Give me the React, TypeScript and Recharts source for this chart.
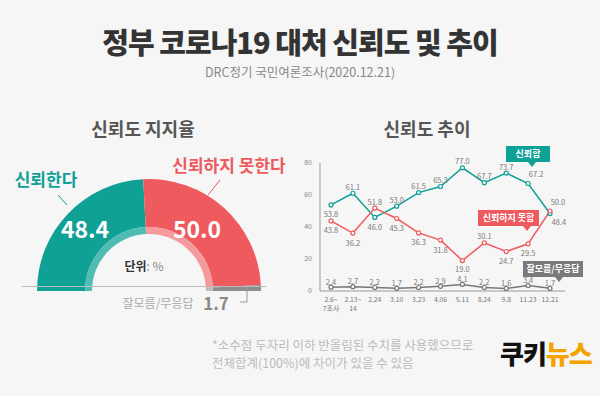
import { PieChart, Pie, Cell, LineChart, Line, XAxis, YAxis, LabelList } from "recharts";

const gaugeNames = ["신뢰한다", "신뢰하지 못한다", "잘모름/무응답"];
const gaugeValues = [48.4, 50.0, 1.7];

const dates = ["2.6~|7조사", "2.13~|14", "2.24", "3.10", "3.23", "4.06", "5.11", "8.24", "9.8", "11.23", "12.21"];
const trust = [53.8, 61.1, 46.0, 53.0, 61.5, 65.3, 77.0, 67.7, 73.7, 67.2, 48.4];
const distrust = [43.8, 36.2, 51.8, 45.3, 36.3, 31.8, 19.0, 30.1, 24.7, 29.5, 50.0];
const unsure = [2.4, 2.7, 2.2, 1.7, 2.2, 2.9, 4.1, 2.2, 1.6, 3.4, 1.7];
const yTicks = [0, 20, 40, 60, 80];

// where each value label sits relative to its point
const trustPos = ["b", "a", "b", "a", "a", "a", "a", "a", "a", "ar", "br"];
const distrustPos = ["b", "b", "a", "b", "b", "b", "bs", "a", "b", "b", "ar"];
const unsurePos = unsure.map(() => "as");

const TEAL = "#0fa096";
const RED = "#ef5a5f";
const GRAY = "#777";
const FONT = "'Noto Sans CJK KR', 'Noto Sans', sans-serif";

const gaugeData = gaugeNames.map((name, i) => ({ name, value: gaugeValues[i] }));
const gaugeColors = [TEAL, RED, "#8e8e8e"];
const gaugeInner = ["#4fbcb3", "#f49a9c", "#bdbdbd"];

const lineData = dates.map((d, i) => ({
  date: d,
  trust: trust[i],
  distrust: distrust[i],
  unsure: unsure[i],
}));

const offsets: Record<string, [number, number]> = {
  a: [0, -7],
  as: [0, -6],
  b: [0, 9],
  bs: [0, 8],
  ar: [8, -10],
  br: [9, 8],
};

const makeLabel = (pos: string[]) => (props: any) => {
  const { x, y, value, index } = props;
  const [dx, dy] = offsets[pos[index] ?? "a"];
  return (
    <text x={x + dx} y={y + dy} textAnchor="middle" dominantBaseline="central"
      fontSize={7.5} fill="#7a7a7a" fontFamily={FONT}>
      {Number(value).toFixed(1)}
    </text>
  );
};

const DateTick = (props: any) => {
  const { x, y, payload } = props;
  const parts = String(payload.value).split("|");
  return (
    <g>
      {parts.map((t, i) => (
        <text key={i} x={x} y={y + 3 + i * 9} textAnchor="middle" fontSize={6.8} fill="#777" fontFamily={FONT}>{t}</text>
      ))}
    </g>
  );
};

const Dot = (color: string) => (props: any) => {
  const { cx, cy, index } = props;
  return <circle key={index} cx={cx} cy={cy} r={2} fill="#fff" stroke={color} strokeWidth={1.2} />;
};

function Callout({ left, top, width, text, color, tip }: any) {
  return (
    <div style={{ position: "absolute", left, top, width, height: 16 }}>
      <div style={{
        background: color, color: "#fff", fontSize: 9, fontWeight: 700, lineHeight: "16px",
        textAlign: "center", height: 16, whiteSpace: "nowrap",
      }}>{text}</div>
      <div style={{
        position: "absolute", left: tip - 4, top: 16, width: 0, height: 0,
        borderLeft: "4px solid transparent", borderRight: "4px solid transparent",
        borderTop: `5px solid ${color}`,
      }} />
    </div>
  );
}

const abs = (left: number, top: number, extra: any = {}) => ({
  position: "absolute" as const, left, top, transform: "translate(-50%, -50%)", whiteSpace: "nowrap" as const,
  lineHeight: 1.15, ...extra,
});

export default function App() {
  return (
    <div style={{
      position: "absolute", left: 0, top: 0, width: 600, height: 396, background: "#f6f6f6",
      fontFamily: FONT, overflow: "hidden",
    }}>
      <div style={abs(300, 41, { fontSize: 29, fontWeight: 900, color: "#333", letterSpacing: -1, lineHeight: 1 })}>
        정부 코로나19 대처 신뢰도 및 추이
      </div>
      <div style={abs(300, 72, { fontSize: 12.5, color: "#888" })}>
        DRC정기 국민여론조사(2020.12.21)
      </div>
      <div style={abs(143, 128, { fontSize: 18, fontWeight: 700, color: "#555" })}>신뢰도 지지율</div>
      <div style={abs(427, 128, { fontSize: 18, fontWeight: 700, color: "#555" })}>신뢰도 추이</div>

      {/* gauge */}
      <div style={{ position: "absolute", left: 0, top: 140 }}>
        <PieChart width={290} height={160}>
          <Pie data={gaugeData} dataKey="value" cx={144} cy={146} startAngle={180} endAngle={0}
            innerRadius={64} outerRadius={112} stroke="none" isAnimationActive={false}>
            {gaugeData.map((d, i) => <Cell key={d.name} fill={gaugeColors[i]} />)}
          </Pie>
          <Pie data={gaugeData} dataKey="value" cx={144} cy={146} startAngle={180} endAngle={0}
            innerRadius={57} outerRadius={64} stroke="none" isAnimationActive={false}>
            {gaugeData.map((d, i) => <Cell key={d.name} fill={gaugeInner[i]} />)}
          </Pie>
        </PieChart>
      </div>
      <svg style={{ position: "absolute", left: 0, top: 0 }} width={600} height={396}>
        <line x1={22} y1={286.5} x2={266} y2={286.5} stroke="#bbb" strokeWidth={1} />
        <line x1={58} y1={195} x2={67} y2={205} stroke={TEAL} strokeWidth={1} />
        <line x1={220} y1={180} x2={208} y2={195} stroke={RED} strokeWidth={1} />
        <polyline points="247,287 247,302 240,302" fill="none" stroke="#999" strokeWidth={1} />
      </svg>
      <div style={abs(85, 228, { fontSize: 23, fontWeight: 700, color: "#fff" })}>{gaugeValues[0].toFixed(1)}</div>
      <div style={abs(197, 228, { fontSize: 23, fontWeight: 700, color: "#fff" })}>{gaugeValues[1].toFixed(1)}</div>
      <div style={abs(46, 179, { fontSize: 17, fontWeight: 700, color: TEAL })}>{gaugeNames[0]}</div>
      <div style={abs(229, 165, { fontSize: 17, fontWeight: 700, color: RED })}>{gaugeNames[1]}</div>
      <div style={abs(144, 266, { fontSize: 12, color: "#888" })}>
        <span style={{ fontWeight: 700, color: "#333" }}>단위</span>: %
      </div>
      <div style={abs(158, 303, { fontSize: 12, color: "#aaa" })}>{gaugeNames[2]}</div>
      <div style={abs(216, 303, { fontSize: 17, fontWeight: 700, color: "#888" })}>{gaugeValues[2].toFixed(1)}</div>

      {/* trend */}
      <div style={{ position: "absolute", left: 290, top: 140 }}>
        <LineChart width={290} height={180} data={lineData} margin={{ top: 23, right: 15, bottom: 0, left: 0 }}>
          <XAxis dataKey="date" interval={0} height={29} tickLine={false} axisLine={{ stroke: "#999" }}
            padding={{ left: 11, right: 15 }} tick={<DateTick />} />
          <YAxis width={30} domain={[0, 80]} ticks={yTicks} tickLine={false} axisLine={{ stroke: "#999" }}
            tick={{ fontSize: 7, fill: "#888", fontFamily: FONT }} />
          <Line dataKey="trust" stroke={TEAL} strokeWidth={1.5} dot={Dot(TEAL)} isAnimationActive={false}>
            <LabelList dataKey="trust" content={makeLabel(trustPos)} />
          </Line>
          <Line dataKey="distrust" stroke={RED} strokeWidth={1.5} dot={Dot(RED)} isAnimationActive={false}>
            <LabelList dataKey="distrust" content={makeLabel(distrustPos)} />
          </Line>
          <Line dataKey="unsure" stroke={GRAY} strokeWidth={1.5} dot={Dot(GRAY)} isAnimationActive={false}>
            <LabelList dataKey="unsure" content={makeLabel(unsurePos)} />
          </Line>
        </LineChart>
      </div>
      <Callout left={506} top={146} width={44} text="신뢰함" color={TEAL} tip={26} />
      <Callout left={478} top={210} width={61} text="신뢰하지 못함" color={RED} tip={49} />
      <Callout left={523} top={261} width={60} text="잘모름/무응답" color="#7a7a7a" tip={36} />

      {/* footnote + logo */}
      <div style={{ position: "absolute", left: 212, top: 336, fontSize: 12.5, color: "#bbb", lineHeight: "18px" }}>
        *소수점 두자리 이하 반올림된 수치를 사용했으므로<br />전체합계(100%)에 차이가 있을 수 있음
      </div>
      <div style={{ position: "absolute", left: 500, top: 337, fontSize: 26, fontWeight: 900, letterSpacing: -1, lineHeight: "32px" }}>
        <span style={{ color: "#111" }}>쿠키</span><span style={{ color: "#f5a300" }}>뉴스</span>
      </div>
    </div>
  );
}
